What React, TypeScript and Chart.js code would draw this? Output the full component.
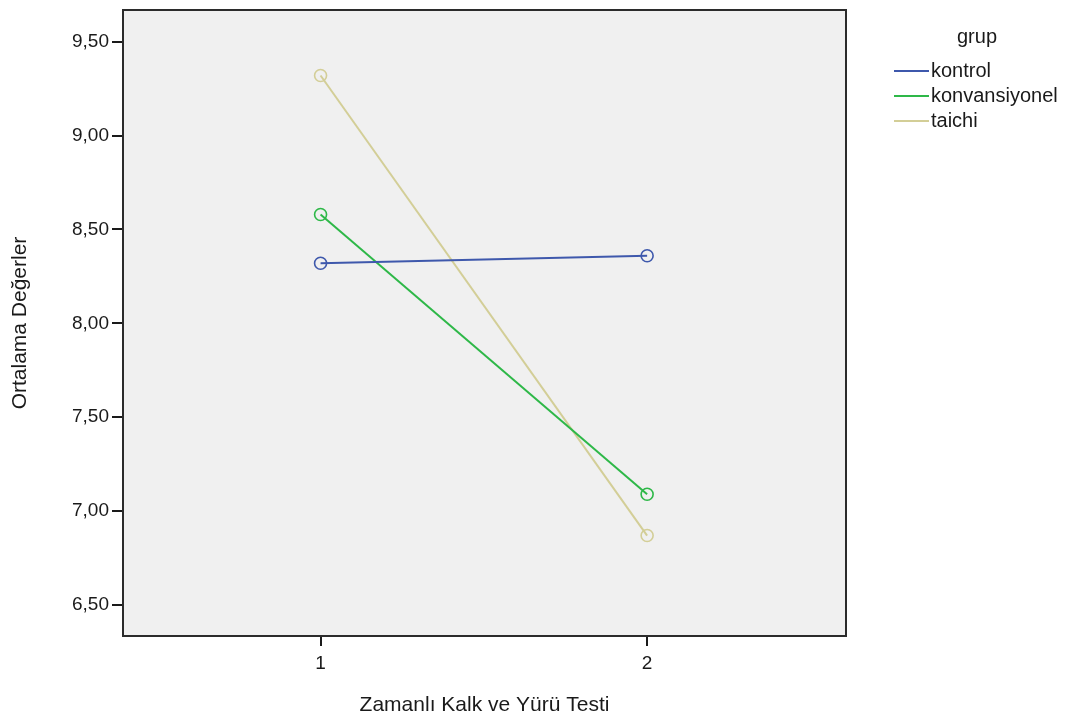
import React, { useEffect, useRef } from "react";
import { Chart, registerables } from "chart.js";

Chart.register(...registerables);

const timePoints = [1, 2];
const xTickValues = [1, 2];
const yTickValues = [6.5, 7.0, 7.5, 8.0, 8.5, 9.0, 9.5];
const groupNames = ["kontrol", "konvansiyonel", "taichi"];
const kontrolValues = [8.32, 8.36];
const konvansiyonelValues = [8.58, 7.09];
const taichiValues = [9.32, 6.87];
const groupColors = ["#3E58AC", "#2EB848", "#D3CE97"];

const xTitle = "Zamanlı Kalk ve Yürü Testi";
const yTitle = "Ortalama Değerler";
const legendTitle = "grup";

const FONT = "'Liberation Sans', Arial, sans-serif";

const frameAndBg = {
  id: "frameAndBg",
  beforeDraw(chart: any) {
    const { ctx, chartArea } = chart;
    ctx.save();
    ctx.fillStyle = "#F0F0F0";
    ctx.fillRect(chartArea.left, chartArea.top, chartArea.right - chartArea.left, chartArea.bottom - chartArea.top);
    ctx.restore();
  },
  afterDatasetsDraw(chart: any) {
    const { ctx, chartArea } = chart;
    ctx.save();
    ctx.strokeStyle = "#2b2b2b";
    ctx.lineWidth = 2;
    ctx.strokeRect(chartArea.left, chartArea.top, chartArea.right - chartArea.left, chartArea.bottom - chartArea.top);
    ctx.restore();
  },
};

const customLegend = {
  id: "customLegend",
  afterDraw(chart: any) {
    const { ctx } = chart;
    ctx.save();
    ctx.fillStyle = "#1a1a1a";
    ctx.font = `20px ${FONT}`;
    ctx.textAlign = "center";
    ctx.textBaseline = "middle";
    ctx.fillText(legendTitle, 977, 37);
    ctx.textAlign = "left";
    chart.data.datasets.forEach((ds: any, i: number) => {
      const y = 71 + i * 25;
      ctx.strokeStyle = ds.borderColor;
      ctx.lineWidth = 2;
      ctx.beginPath();
      ctx.moveTo(894, y);
      ctx.lineTo(929, y);
      ctx.stroke();
      ctx.fillStyle = "#1a1a1a";
      ctx.fillText(ds.label, 931, y);
    });
    ctx.restore();
  },
};

export default function App() {
  const ref = useRef<HTMLCanvasElement | null>(null);

  useEffect(() => {
    if (!ref.current) return;
    const series = [kontrolValues, konvansiyonelValues, taichiValues];
    const chart = new Chart(ref.current, {
      type: "line",
      data: {
        datasets: series.map((vals, i) => ({
          label: groupNames[i],
          data: timePoints.map((x, j) => ({ x, y: vals[j] })),
          borderColor: groupColors[i],
          backgroundColor: "rgba(0,0,0,0)",
          borderWidth: 2,
          pointRadius: 6,
          pointBorderWidth: 1.6,
          pointBackgroundColor: "rgba(0,0,0,0)",
          pointBorderColor: groupColors[i],
          fill: false,
          tension: 0,
        })),
      },
      options: {
        animation: false,
        responsive: false,
        devicePixelRatio: 1,
        events: [],
        layout: { padding: { top: 10, right: 224, left: 0, bottom: 0 } },
        plugins: { legend: { display: false }, tooltip: { enabled: false } },
        scales: {
          x: {
            type: "linear",
            min: 0.395,
            max: 2.609,
            afterBuildTicks: (s: any) => {
              s.ticks = xTickValues.map((v) => ({ value: v }));
            },
            afterFit: (s: any) => {
              s.height = 84;
              s.paddingLeft = 0;
              s.paddingRight = 0;
            },
            ticks: {
              color: "#1a1a1a",
              font: { family: FONT, size: 19 },
              padding: 6,
              callback: (v: any) => String(v),
            },
            grid: { drawOnChartArea: false, drawTicks: true, tickLength: 10, color: "#1a1a1a", lineWidth: 2 },
            border: { display: false },
            title: {
              display: true,
              text: xTitle,
              color: "#1a1a1a",
              font: { family: FONT, size: 21 },
              padding: { top: 0, bottom: 2 },
            },
          },
          y: {
            type: "linear",
            min: 6.335,
            max: 9.669,
            afterBuildTicks: (s: any) => {
              s.ticks = yTickValues.map((v) => ({ value: v }));
            },
            afterFit: (s: any) => {
              s.width = 123;
              s.paddingTop = 0;
              s.paddingBottom = 0;
            },
            ticks: {
              color: "#1a1a1a",
              font: { family: FONT, size: 19 },
              padding: 3,
              callback: (v: any) => Number(v).toFixed(2).replace(".", ","),
            },
            grid: { drawOnChartArea: false, drawTicks: true, tickLength: 11, color: "#1a1a1a", lineWidth: 2 },
            border: { display: false },
            title: {
              display: true,
              text: yTitle,
              color: "#1a1a1a",
              font: { family: FONT, size: 21 },
              padding: { top: 8, bottom: 0 },
            },
          },
        },
      },
      plugins: [frameAndBg, customLegend],
    } as any);
    return () => chart.destroy();
  }, []);

  return (
    <div style={{ position: "absolute", left: 0, top: 0, width: 1070, height: 720, background: "#fff" }}>
      <canvas ref={ref} width={1070} height={720} style={{ display: "block", width: 1070, height: 720 }} />
    </div>
  );
}
